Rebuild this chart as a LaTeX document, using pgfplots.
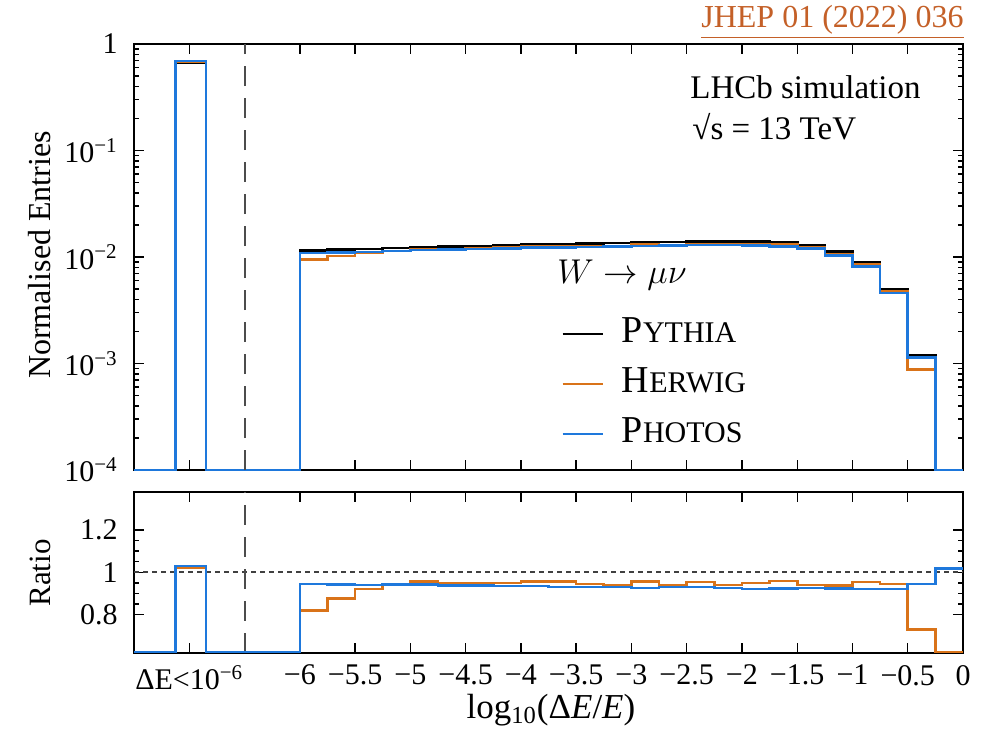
\documentclass[border=0pt]{standalone}
\usepackage{fontspec}
\setmainfont{Liberation Serif}
\usepackage{pgfplots}
\pgfplotsset{compat=1.18}
\usepackage{pgfplotstable}
\definecolor{herw}{RGB}{217,115,25}
\definecolor{phot}{RGB}{30,120,220}
\definecolor{jhep}{RGB}{196,96,40}
\newcommand{\fsc}[2]{{\fontsize{19bp}{19bp}\selectfont #1}{\fontsize{15bp}{15bp}\selectfont #2}}

\pgfplotstableread{
x P H B
-7.5 1e-4 1e-4 1e-4
-7.125 0.670 0.684 0.690
-6.85 1e-4 1e-4 1e-4
-6.00 0.0115 0.00943 0.01087
-5.75 0.0117 0.01026 0.01102
-5.50 0.0119 0.01095 0.01119
-5.25 0.0121 0.01137 0.01140
-5.00 0.0123 0.01177 0.01159
-4.75 0.0125 0.01188 0.01171
-4.50 0.0127 0.01207 0.01190
-4.25 0.0129 0.01226 0.01205
-4.00 0.0131 0.01254 0.01224
-3.75 0.0132 0.01261 0.01228
-3.50 0.0134 0.01266 0.01246
-3.25 0.0135 0.01269 0.01256
-3.00 0.0137 0.01310 0.01267
-2.75 0.0138 0.01297 0.01283
-2.50 0.0139 0.01325 0.01293
-2.25 0.0140 0.01316 0.01295
-2.00 0.0140 0.01330 0.01288
-1.75 0.0137 0.01312 0.01263
-1.50 0.0130 0.01222 0.01203
-1.25 0.0112 0.01049 0.01033
-1.00 0.0089 0.00848 0.00819
-0.75 0.0050 0.00473 0.00460
-0.50 0.00120 0.000876 0.001134
-0.25 1e-4 1e-4 1e-4
0 1e-4 1e-4 1e-4
}\toptable

\pgfplotstableread{
x H B
-7.5 0.62 0.62
-7.125 1.02 1.03
-6.85 0.62 0.62
-6.00 0.820 0.945
-5.75 0.877 0.942
-5.50 0.920 0.940
-5.25 0.940 0.942
-5.00 0.957 0.942
-4.75 0.950 0.937
-4.50 0.950 0.937
-4.25 0.950 0.934
-4.00 0.957 0.934
-3.75 0.955 0.930
-3.50 0.945 0.930
-3.25 0.940 0.930
-3.00 0.956 0.925
-2.75 0.940 0.930
-2.50 0.953 0.930
-2.25 0.940 0.925
-2.00 0.950 0.920
-1.75 0.958 0.922
-1.50 0.940 0.925
-1.25 0.937 0.922
-1.00 0.953 0.920
-0.75 0.945 0.920
-0.50 0.730 0.945
-0.25 0.62 1.018
0 0.62 1.018
}\ratiotable

\pgfplotsset{
  myaxis/.style={
    scale only axis, width=414.5bp, xmin=-7.5, xmax=0,
    axis line style={line width=1bp, black},
    tick align=inside,
    major tick length=5bp, minor tick length=2.5bp,
    every tick/.style={black, line width=0.7bp},
    xtick={-7,-6,-5.5,-5,-4.5,-4,-3.5,-3,-2.5,-2,-1.5,-1,-0.5,0},
    minor x tick num=4,
    tick label style={font=\fontsize{15bp}{15bp}\selectfont},
    yticklabel style={inner sep=0pt},
    yticklabel shift=8bp,
    xticklabel style={inner sep=0pt},
    xticklabel shift=6bp,
    hist/.style={const plot mark left, no marks, line width=1.3bp},
  }
}

\begin{document}
\begin{tikzpicture}
\useasboundingbox (0,0) rectangle (493.5bp,-368bp);
\begin{axis}[myaxis, at={(67bp,-22bp)}, anchor=north west, height=213bp,
  ymode=log, ymin=1e-4, ymax=1,
  ytick={1e-4,1e-3,1e-2,1e-1,1},
  yticklabels={10\textsuperscript{−4},10\textsuperscript{−3},10\textsuperscript{−2},10\textsuperscript{−1},1},
  xticklabels={},
  legend style={at={(axis description cs:0.515,0.365)}, anchor=north west, draw=none, fill=none,
    font=\fontsize{17bp}{17bp}\selectfont, row sep=6bp, inner sep=0pt,
    nodes={inner sep=2bp, text height=12bp, text depth=3bp}},
  legend cell align=left,
  legend image code/.code={\draw[#1] (0bp,0bp) -- (20bp,0bp); \path (27bp,0bp);},
]
\addplot[hist, black] table[x=x, y=P] {\toptable};
\addlegendentry{\fsc{P}{YTHIA}}
\addplot[hist, herw] table[x=x, y=H] {\toptable};
\addlegendentry{\fsc{H}{ERWIG}}
\addplot[hist, phot] table[x=x, y=B] {\toptable};
\addlegendentry{\fsc{P}{HOTOS}}
\addplot[forget plot, black!70, line width=1bp, dash pattern=on 10bp off 6bp] coordinates {(-6.5,1e-4) (-6.5,1)};
\end{axis}

\begin{axis}[myaxis, at={(67bp,-245.85bp)}, anchor=north west, height=80.5bp,
  ymin=0.62, ymax=1.38,
  ytick={0.8,1,1.2}, yticklabels={0.8,1,1.2},
  minor y tick num=3,
  xticklabels={ΔE<10\textsuperscript{−6},−6,−5.5,−5,−4.5,−4,−3.5,−3,−2.5,−2,−1.5,−1,−0.5,0},
]
\addplot[black!75, line width=0.8bp, dash pattern=on 2.5bp off 2bp] coordinates {(-7.5,1) (0,1)};
\addplot[black!70, line width=1bp, dash pattern=on 10bp off 6bp] coordinates {(-6.5,0.62) (-6.5,1.38)};
\addplot[hist, herw] table[x=x, y=H] {\ratiotable};
\addplot[hist, phot] table[x=x, y=B] {\ratiotable};
\end{axis}

\node[anchor=east, inner sep=0pt, text=jhep, font=\fontsize{16bp}{16bp}\selectfont] at (482bp,-11bp) {\underline{JHEP 01 (2022) 036}};
\node[anchor=west, inner sep=0pt, font=\fontsize{16.5bp}{16.5bp}\selectfont] at (345bp,-43.5bp) {LHCb simulation};
\node[anchor=west, inner sep=0pt, font=\fontsize{16.5bp}{16.5bp}\selectfont] at (346bp,-63.5bp) {√s = 13 TeV};
\node[anchor=west, inner sep=0pt, font=\fontsize{18.5bp}{18.5bp}\selectfont] at (278.5bp,-137.5bp) {$W \rightarrow \mu\nu$};
\node[rotate=90, font=\fontsize{16bp}{16bp}\selectfont] at (20bp,-127.5bp) {Normalised Entries};
\node[rotate=90, font=\fontsize{15.5bp}{15.5bp}\selectfont] at (20bp,-286.5bp) {Ratio};
\node[font=\fontsize{17.5bp}{17.5bp}\selectfont] at (275.5bp,-355bp) {log\textsubscript{10}(Δ\textit{E}/\textit{E})};
\end{tikzpicture}
\end{document}
